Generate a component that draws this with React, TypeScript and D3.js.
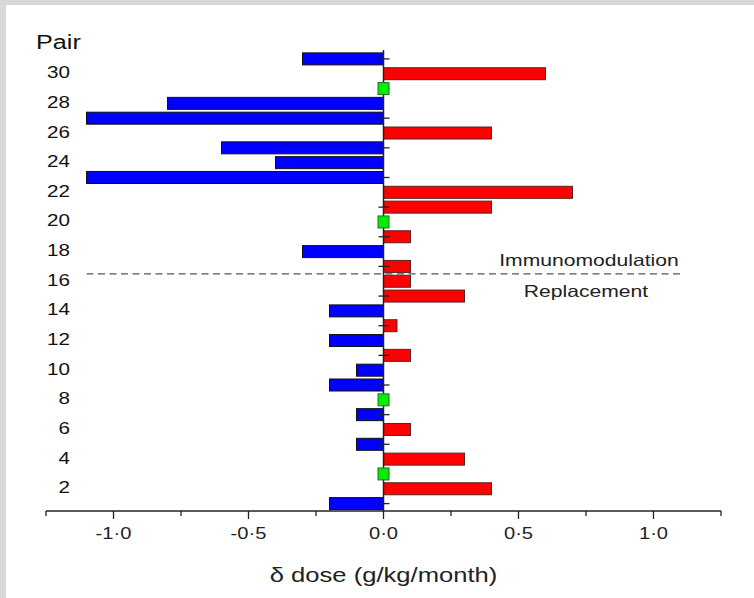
import React from "react";
import * as d3 from "d3";

const pairs = [1, 2, 3, 4, 5, 6, 7, 8, 9, 10, 11, 12, 13, 14, 15, 16, 17, 18, 19, 20, 21, 22, 23, 24, 25, 26, 27, 28, 29, 30, 31];
const deltaDose = [-0.2, 0.4, 0, 0.3, -0.1, 0.1, -0.1, 0, -0.2, -0.1, 0.1, -0.2, 0.05, -0.2, 0.3, 0.1, 0.1, -0.3, 0.1, 0, 0.4, 0.7, -1.1, -0.4, -0.6, 0.4, -1.1, -0.8, 0, 0.6, -0.3];
const yTickLabels = [2, 4, 6, 8, 10, 12, 14, 16, 18, 20, 22, 24, 26, 28, 30];
const zeroTicks = [1, 3, 5, 7, 9, 11, 13, 15, 17, 19, 21, 23, 25, 27, 29, 31];
const xMajorTicks = [-1, -0.5, 0, 0.5, 1];
const xMinorTicks = [-1.25, -0.75, -0.25, 0.25, 0.75, 1.25];
const xTickLabels = ["-1·0", "-0·5", "0·0", "0·5", "1·0"];
const groupBoundary = 16.5;
const groupLabels = ["Immunomodulation", "Replacement"];

const W = 754;
const H = 598;
const FONT = "'Liberation Sans', Arial, sans-serif";

export default function App() {
  const x = d3.scaleLinear().domain([-1.25, 1.25]).range([46, 721]);
  const y = d3.scaleLinear().domain([0.5, 31.6]).range([511, 50]);
  const barH = 12;
  const axisY = y(0.5);
  const x0 = x(0);

  return (
    <svg width={W} height={H} style={{ position: "absolute", left: 0, top: 0 }} fontFamily={FONT}>
      <rect x={0} y={0} width={W} height={H} fill="#d8d8d8" />
      <rect x={6} y={5} width={W - 6} height={H - 5} fill="#ffffff" />

      {/* Pair label */}
      <text transform={`translate(36,48.5) scale(1.2,1)`} fontSize={21} fill="#111">Pair</text>

      {/* y labels */}
      {yTickLabels.map((p) => (
        <text key={p} transform={`translate(70,${y(p) + 4.5}) scale(1.25,1)`} fontSize={16.5} textAnchor="end" fill="#111">
          {p}
        </text>
      ))}

      {/* bars */}
      {pairs.map((p, i) => {
        const v = deltaDose[i];
        if (v === 0) return null;
        const xa = x(Math.min(0, v));
        const xb = x(Math.max(0, v));
        return (
          <rect
            key={p}
            x={xa}
            y={y(p) - barH / 2}
            width={xb - xa}
            height={barH}
            fill={v < 0 ? "#0000ff" : "#ff0000"}
            stroke={v < 0 ? "#111" : "#5a2222"}
            strokeWidth={1}
          />
        );
      })}

      {/* zero line */}
      <line x1={x0} x2={x0} y1={50} y2={axisY} stroke="#222" strokeWidth={1.5} />
      {zeroTicks.map((p) => (
        <line key={p} x1={x0 - 5} x2={x0 + 6} y1={y(p)} y2={y(p)} stroke="#222" strokeWidth={1.3} />
      ))}

      {/* green zero markers */}
      {pairs.map((p, i) =>
        deltaDose[i] === 0 ? (
          <rect key={"g" + p} x={x0 - 5.5} y={y(p) - 6} width={11} height={12} fill="#00ee00" stroke="#2e6b2e" strokeWidth={1} />
        ) : null
      )}

      {/* group boundary */}
      <line x1={x(-1.1)} x2={x(1.1)} y1={y(groupBoundary)} y2={y(groupBoundary)} stroke="#555" strokeWidth={1.4} strokeDasharray="7,4.5" />
      <text transform={`translate(589,${y(groupBoundary) - 8}) scale(1.28,1)`} fontSize={16.5} textAnchor="middle" fill="#222">
        {groupLabels[0]}
      </text>
      <text transform={`translate(586,${y(groupBoundary) + 23}) scale(1.28,1)`} fontSize={16.5} textAnchor="middle" fill="#222">
        {groupLabels[1]}
      </text>

      {/* x axis */}
      <line x1={x(-1.25)} x2={x(1.25)} y1={axisY} y2={axisY} stroke="#222" strokeWidth={1.5} />
      {xMajorTicks.map((t) => (
        <line key={"M" + t} x1={x(t)} x2={x(t)} y1={axisY} y2={axisY + 8} stroke="#222" strokeWidth={1.3} />
      ))}
      {xMinorTicks.map((t) => (
        <line key={"m" + t} x1={x(t)} x2={x(t)} y1={axisY} y2={axisY + 5} stroke="#222" strokeWidth={1.3} />
      ))}
      {xMajorTicks.map((t, i) => (
        <text key={"l" + t} transform={`translate(${x(t)},539) scale(1.22,1)`} fontSize={16.5} textAnchor="middle" fill="#222">
          {xTickLabels[i]}
        </text>
      ))}
      <text transform={`translate(${x0},582) scale(1.28,1)`} fontSize={20} textAnchor="middle" fill="#222">
        δ dose (g/kg/month)
      </text>
    </svg>
  );
}
